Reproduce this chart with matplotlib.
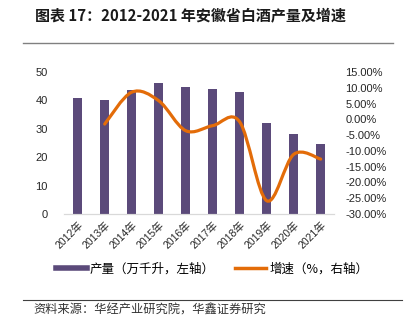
import matplotlib
matplotlib.use("Agg")
import matplotlib.pyplot as plt
from matplotlib.lines import Line2D
from matplotlib.patches import PathPatch
from matplotlib.path import Path

plt.rcParams["font.family"] = ["Liberation Sans", "Noto Sans CJK SC"]

years = ["2012年", "2013年", "2014年", "2015年", "2016年",
         "2017年", "2018年", "2019年", "2020年", "2021年"]
output = [40.7, 40.0, 43.5, 46.3, 44.7, 43.9, 43.1, 31.9, 28.2, 24.6]
# growth starts from 2013
growth = [-1.5, 8.6, 5.9, -3.6, -2.0, -0.8, -25.8, -11.1, -12.6]

bar_color = "#5B4A7A"
line_color = "#E36C09"

fig = plt.figure(figsize=(4.1, 3.28), dpi=100)
ax = fig.add_axes([64.2 / 410, 1 - 214 / 328, 270 / 410, 142 / 328])
ax2 = ax.twinx()

x = list(range(len(years)))
ax.bar(x, output, width=0.32, color=bar_color, zorder=2)
ax.set_xlim(-0.5, len(years) - 0.5)
ax.set_ylim(0, 50)
ax.set_yticks([0, 10, 20, 30, 40, 50])
ax.set_xticks(x)
ax.set_xticklabels(years, rotation=45, ha="right", rotation_mode="anchor")
ax.tick_params(axis="y", length=0, pad=12, labelsize=8, colors="#262626")
ax.tick_params(axis="x", length=0, pad=4, labelsize=7.5, colors="#262626")

# smoothed growth line (Excel style bezier)
gx = x[1:]
pts = list(zip(gx, growth))
verts = [pts[0]]
codes = [Path.MOVETO]
for i in range(len(pts) - 1):
    p0 = pts[i - 1] if i > 0 else pts[i]
    p1 = pts[i]
    p2 = pts[i + 1]
    p3 = pts[i + 2] if i + 2 < len(pts) else pts[i + 1]
    c1 = (p1[0] + (p2[0] - p0[0]) / 6, p1[1] + (p2[1] - p0[1]) / 6)
    c2 = (p2[0] - (p3[0] - p1[0]) / 6, p2[1] - (p3[1] - p1[1]) / 6)
    verts += [c1, c2, p2]
    codes += [Path.CURVE4] * 3
ax2.add_patch(PathPatch(Path(verts, codes), fill=False, edgecolor=line_color,
                        linewidth=2.3, capstyle="round", zorder=3))
ax2.set_ylim(-30, 15)
ax2.set_yticks(range(-30, 16, 5))
ax2.set_yticklabels([f"{v:.2f}%" for v in range(-30, 16, 5)])
ax2.tick_params(axis="y", length=0, pad=8, labelsize=8, colors="#262626")

for a in (ax, ax2):
    for side in ("top", "left", "right"):
        a.spines[side].set_visible(False)
    a.spines["bottom"].set_color("#D9D9D9")

handles = [Line2D([], [], color=bar_color, linewidth=4),
           Line2D([], [], color=line_color, linewidth=2.5)]
fig.legend(handles, ["产量（万千升，左轴）", "增速（%，右轴）"],
           loc="center", bbox_to_anchor=(212 / 410, 1 - 269 / 328), ncol=2,
           frameon=False, handlelength=2.5, handletextpad=0.25,
           columnspacing=1.6, prop={"family": "Noto Sans CJK SC", "size": 9})

fig.text(35 / 410, 1 - 15 / 328, "图表 17：2012-2021 年安徽省白酒产量及增速",
         family="Noto Sans CJK SC", fontweight="bold", fontsize=10.8,
         va="center", ha="left", color="#1a1a1a")
fig.add_artist(Line2D([23 / 410, 393 / 410], [1 - 42.7 / 328] * 2,
                      color="#808080", linewidth=1))
fig.add_artist(Line2D([23 / 410, 402 / 410], [1 - 300 / 328] * 2,
                      color="#404040", linewidth=0.8))
fig.text(33 / 410, 1 - 310 / 328, "资料来源：华经产业研究院，华鑫证券研究",
         family="Noto Sans CJK SC", fontsize=8.8, va="center", ha="left",
         color="#333333")

fig.savefig("out.png", dpi=100, facecolor="white")
